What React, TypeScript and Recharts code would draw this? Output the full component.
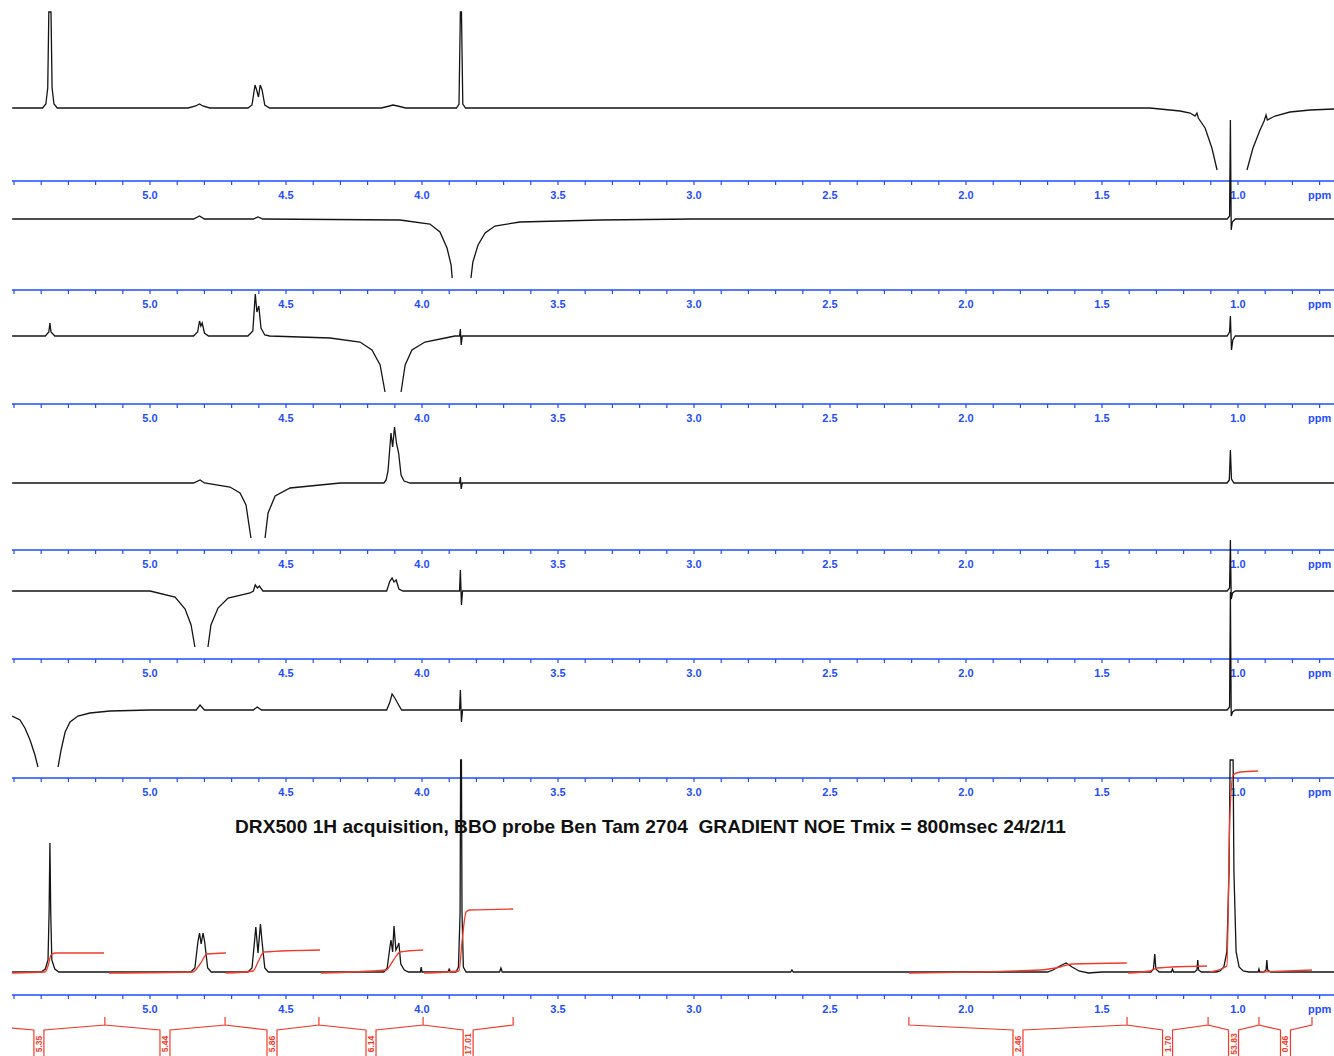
import { ComposedChart, Line, XAxis, YAxis } from "recharts";

type Pt = [number, number | null];

// chemical shift (ppm) vs intensity above each trace's own baseline
// trace 1: saturation at 1.03 ppm
const noeAt103: Pt[] = [
  [5.507, 0], [5.395, 0], [5.383, 4], [5.376, 20], [5.372, 96], [5.364, 96], [5.36, 20], [5.353, 4], [5.341, 0],
  [4.86, 0], [4.832, 2], [4.818, 4], [4.806, 2], [4.78, 0],
  [4.64, 0], [4.625, 3], [4.614, 23], [4.608, 18], [4.601, 11], [4.595, 23], [4.588, 18], [4.578, 3], [4.56, 0],
  [4.15, 0], [4.12, 2], [4.107, 3], [4.09, 2], [4.06, 0],
  [3.873, 0], [3.864, 4], [3.859, 96], [3.855, 96], [3.85, 4], [3.84, 0],
  [1.324, 0], [1.213, -3], [1.176, -5], [1.158, -8], [1.151, -5], [1.146, -10], [1.121, -20], [1.096, -40], [1.077, -62],
  [1.026, null],
  [0.967, -62], [0.945, -40], [0.919, -22], [0.904, -13], [0.897, -7], [0.892, -12], [0.864, -8], [0.809, -4], [0.735, -2], [0.647, -1],
];

// trace 2: saturation at 3.86 ppm
const noeAt386: Pt[] = [
  [5.507, 0], [4.84, 0], [4.818, 3], [4.8, 0], [4.62, 0], [4.603, 2], [4.585, 0],
  [4.081, -1], [3.971, -5], [3.934, -13], [3.908, -29], [3.893, -46], [3.889, -59],
  [3.857, null],
  [3.82, -59], [3.813, -43], [3.794, -26], [3.768, -14], [3.732, -7], [3.64, -3], [3.346, -1], [3.0, 0],
  [1.04, 0], [1.031, 3], [1.028, 99], [1.025, -11], [1.021, -3], [1.01, 0], [0.647, 0],
];

// trace 3: saturation at 4.10 ppm
const noeAt410: Pt[] = [
  [5.507, 0], [5.385, 0], [5.372, 4], [5.368, 13], [5.364, 4], [5.35, 0],
  [4.84, 0], [4.825, 4], [4.818, 15], [4.813, 10], [4.808, 13], [4.8, 3], [4.785, 0],
  [4.64, 0], [4.622, 5], [4.613, 42], [4.607, 24], [4.6, 30], [4.592, 8], [4.578, 1], [4.56, 0],
  [4.338, -2], [4.228, -6], [4.184, -14], [4.154, -29], [4.136, -56],
  [4.107, null],
  [4.077, -56], [4.062, -29], [4.037, -14], [3.989, -6], [3.915, -2], [3.879, 0],
  [3.862, 0], [3.859, 7], [3.856, -9], [3.852, 0],
  [1.04, 0], [1.031, 4], [1.028, 20], [1.024, -14], [1.019, -4], [1.01, 0], [0.647, 0],
];

// trace 4: saturation at 4.60 ppm
const noeAt460: Pt[] = [
  [5.507, 0], [4.84, 0], [4.816, 3], [4.8, 0],
  [4.706, -4], [4.669, -10], [4.647, -22], [4.629, -55],
  [4.603, null],
  [4.577, -55], [4.566, -30], [4.54, -13], [4.485, -5], [4.375, -2], [4.3, 0],
  [4.14, 0], [4.132, 3], [4.125, 12], [4.114, 50], [4.108, 36], [4.101, 56], [4.094, 40], [4.086, 30], [4.077, 8], [4.066, 2], [4.044, 0],
  [3.862, 0], [3.859, 6], [3.856, -6], [3.852, 0],
  [1.04, 0], [1.032, 3], [1.028, 33], [1.024, 4], [1.015, 0], [0.647, 0],
];

// trace 5: saturation at 4.80 ppm
const noeAt480: Pt[] = [
  [5.507, 0], [5.0, 0], [4.908, -6], [4.871, -18], [4.849, -34], [4.835, -56],
  [4.81, null],
  [4.787, -56], [4.776, -34], [4.75, -17], [4.713, -7], [4.632, -2],
  [4.62, 0], [4.613, 6], [4.605, 3], [4.598, 5], [4.585, 0],
  [4.13, 0], [4.118, 10], [4.11, 13], [4.103, 9], [4.095, 11], [4.085, 2], [4.07, 0],
  [3.862, 0], [3.859, 21], [3.855, -14], [3.851, 0],
  [1.04, 0], [1.031, 3], [1.028, 51], [1.025, -8], [1.02, -2], [1.01, 0], [0.647, 0],
];

// trace 6: saturation at 5.37 ppm
const noeAt537: Pt[] = [
  [5.507, -6], [5.478, -10], [5.46, -18], [5.441, -30], [5.423, -45], [5.412, -57],
  [5.375, null],
  [5.338, -57], [5.327, -40], [5.312, -22], [5.294, -12], [5.265, -6], [5.221, -3], [5.147, -1], [5.0, 0],
  [4.83, 0], [4.816, 5], [4.8, 0], [4.62, 0], [4.606, 3], [4.59, 0],
  [4.13, 0], [4.118, 8], [4.11, 16], [4.1, 12], [4.09, 7], [4.075, 0],
  [3.862, 0], [3.859, 20], [3.855, -12], [3.851, 0],
  [1.04, 0], [1.031, 3], [1.028, 118], [1.025, -6], [1.02, -2], [1.01, 0], [0.647, 0],
];

// trace 7: reference 1H spectrum
const protonRef: Pt[] = [
  [5.507, 0], [5.4, 0], [5.385, 3], [5.375, 12], [5.371, 60], [5.368, 129], [5.365, 60], [5.361, 12], [5.35, 3], [5.335, 0],
  [4.85, 0], [4.835, 4], [4.824, 30], [4.818, 39], [4.812, 28], [4.805, 39], [4.799, 30], [4.788, 4], [4.775, 0],
  [4.64, 0], [4.625, 4], [4.616, 30], [4.611, 45], [4.603, 19], [4.594, 48], [4.588, 30], [4.578, 4], [4.565, 0],
  [4.14, 0], [4.128, 4], [4.118, 25], [4.114, 32], [4.108, 20], [4.103, 46], [4.096, 22], [4.089, 26], [4.085, 29], [4.078, 8], [4.065, 2], [4.05, 0],
  [4.006, 0], [4.003, 5], [4.0, 0], [3.905, 0], [3.9, 3], [3.895, 0],
  [3.875, 0], [3.866, 5], [3.86, 60], [3.858, 212], [3.855, 212], [3.853, 60], [3.848, 5], [3.838, 0],
  [3.715, 0], [3.71, 4], [3.705, 0], [2.645, 0], [2.64, 2], [2.635, 0],
  [1.7, 0], [1.68, 2], [1.655, 6], [1.632, 9], [1.61, 5], [1.585, 1], [1.55, -1], [1.5, 0],
  [1.32, 0], [1.311, 3], [1.306, 18], [1.302, 3], [1.29, 0],
  [1.245, 0], [1.241, 3], [1.237, 0],
  [1.16, 0], [1.151, 2], [1.148, 12], [1.145, 2], [1.135, 0],
  [1.08, 0], [1.066, 1], [1.052, 5], [1.041, 20], [1.033, 100], [1.029, 212], [1.018, 212], [1.015, 100], [1.007, 20], [0.996, 5], [0.981, 1], [0.96, 0],
  [0.926, 0], [0.923, 3], [0.92, 0],
  [0.905, 0], [0.897, 2], [0.894, 12], [0.891, 2], [0.88, 0], [0.647, 0],
];

// running integrals on the reference spectrum
const integralCurves: Pt[][] = [
  [[5.507, -1], [5.386, 0], [5.375, 6], [5.364, 17], [5.349, 19], [5.169, 19]],
  [[5.151, -1], [4.842, 0], [4.816, 8], [4.79, 18], [4.721, 19]],
  [[4.721, -1], [4.621, 1], [4.603, 10], [4.581, 20], [4.375, 22]],
  [[4.371, -1], [4.132, 2], [4.107, 11], [4.081, 20], [3.996, 22]],
  [[3.993, -1], [3.864, 1], [3.853, 30], [3.838, 60], [3.824, 62], [3.665, 63]],
  [[2.21, -1], [1.728, 2], [1.654, 5], [1.61, 8], [1.409, 9]],
  [[1.404, -1], [1.324, 1], [1.298, 4], [1.114, 6]],
  [[1.103, 0], [1.041, 6], [1.03, 156], [1.018, 197], [0.992, 200], [0.926, 201]],
  [[0.919, 0], [0.728, 2]],
];

const integralStart = [5.651, 5.166, 4.724, 4.379, 3.996, 2.21, 1.408, 1.11, 0.923];
const integralEnd = [5.166, 4.724, 4.379, 3.996, 3.665, 1.408, 1.11, 0.923, 0.728];
const integralValues = ["5.35", "5.44", "5.86", "6.14", "17.01", "2.46", "1.70", "53.83", "0.46"];

const axisTicks = [
  5.5, 5.4, 5.3, 5.2, 5.1, 5.0, 4.9, 4.8, 4.7, 4.6, 4.5, 4.4, 4.3, 4.2, 4.1, 4.0,
  3.9, 3.8, 3.7, 3.6, 3.5, 3.4, 3.3, 3.2, 3.1, 3.0, 2.9, 2.8, 2.7, 2.6, 2.5, 2.4,
  2.3, 2.2, 2.1, 2.0, 1.9, 1.8, 1.7, 1.6, 1.5, 1.4, 1.3, 1.2, 1.1, 1.0, 0.9, 0.8, 0.7,
];
const labeledTicks = [5.0, 4.5, 4.0, 3.5, 3.0, 2.5, 2.0, 1.5, 1.0];
const unitTick = 0.7;

const traces = [noeAt103, noeAt386, noeAt410, noeAt460, noeAt480, noeAt537, protonRef];
// layout: pixel rows of each trace baseline and of each ppm axis
const baselines = [108, 219, 336, 483, 591, 710, 972];
const axisRows = [181, 290, 404, 550, 659, 778, 995];

const W = 1334;
const H = 1056;
const LEFT = 12;
const PPM_DOMAIN: [number, number] = [0.6471, 5.5074];
const BLUE = "#1f4dff";
const RED = "#ef3b2c";
const FONT = "'Liberation Sans', Arial, Helvetica, sans-serif";

const rows = (pts: Pt[]) => pts.map(([ppm, v]) => ({ ppm, v }));

// integral brackets under the bottom axis (y offsets are below the ref baseline)
const BOX_HALF = 5 / 272;
const bracketRows: { ppm: number; v: number | null }[] = [];
const labelRows: { ppm: number; v: number }[] = [];
integralStart.forEach((s, i) => {
  const e = integralEnd[i];
  const mid = (s + e) / 2;
  bracketRows.push(
    { ppm: s, v: -45 }, { ppm: s, v: -53 }, { ppm: mid + BOX_HALF, v: -58 }, { ppm: mid + BOX_HALF, v: -95 },
    { ppm: mid, v: null },
    { ppm: mid - BOX_HALF, v: -95 }, { ppm: mid - BOX_HALF, v: -58 }, { ppm: e, v: -53 }, { ppm: e, v: -45 },
    { ppm: e, v: null },
  );
  labelRows.push({ ppm: mid, v: -72 });
});

const axisData = axisTicks.map((t) => ({ ppm: t, v: 0 }));

function renderTick(props: any) {
  const { x, y, payload } = props;
  const v = Math.round(payload.value * 10) / 10;
  let label: string | null = null;
  if (v === unitTick) label = "ppm";
  else if (labeledTicks.includes(v)) label = v.toFixed(1);
  if (!label) return <g />;
  return (
    <text x={x} y={y + 12} textAnchor="middle" fill={BLUE} fontSize={11} fontWeight={700} fontFamily={FONT}>
      {label}
    </text>
  );
}

function PpmAxis({ top }: { top: number }) {
  return (
    <div style={{ position: "absolute", left: 0, top: top - 2 }}>
      <ComposedChart width={W} height={30} data={axisData} margin={{ top: 0, right: 0, bottom: 0, left: LEFT }}>
        <XAxis
          type="number"
          dataKey="ppm"
          domain={PPM_DOMAIN}
          reversed
          allowDataOverflow
          ticks={axisTicks}
          interval={0}
          tick={renderTick}
          tickSize={4}
          tickMargin={2}
          height={28}
          axisLine={{ stroke: BLUE, strokeWidth: 1.5 }}
          tickLine={{ stroke: BLUE, strokeWidth: 1.2 }}
        />
        <YAxis hide domain={[0, 1]} />
        <Line dataKey="v" stroke="none" dot={false} isAnimationActive={false} />
      </ComposedChart>
    </div>
  );
}

export default function App() {
  return (
    <div style={{ position: "absolute", left: 0, top: 0, width: W, height: H, background: "#fff", overflow: "hidden" }}>
      {axisRows.map((r) => (
        <PpmAxis key={r} top={r} />
      ))}

      {/* title */}
      <svg width={W} height={H} style={{ position: "absolute", left: 0, top: 0 }}>
        <text
          x={235}
          y={833}
          textLength={831}
          lengthAdjust="spacingAndGlyphs"
          fontSize={19}
          fontWeight={700}
          fontFamily={FONT}
          fill="#111"
          style={{ whiteSpace: "pre" }}
        >
          DRX500 1H acquisition, BBO probe Ben Tam 2704  GRADIENT NOE Tmix = 800msec 24/2/11
        </text>
      </svg>

      <div style={{ position: "absolute", left: 0, top: 0 }}>
        <ComposedChart width={W} height={H} margin={{ top: 0, right: 0, bottom: 0, left: LEFT }}>
          <XAxis hide type="number" dataKey="ppm" domain={PPM_DOMAIN} reversed allowDataOverflow />
          {baselines.map((b, i) => (
            <YAxis key={i} yAxisId={`p${i}`} hide type="number" dataKey="v" domain={[b - H, b]} allowDataOverflow />
          ))}

          {traces.map((t, i) => (
            <Line
              key={i}
              yAxisId={`p${i}`}
              data={rows(t)}
              dataKey="v"
              type="linear"
              stroke="#141414"
              strokeWidth={1.3}
              dot={false}
              isAnimationActive={false}
            />
          ))}

          {integralCurves.map((c, i) => (
            <Line
              key={`int${i}`}
              yAxisId="p6"
              data={rows(c)}
              dataKey="v"
              type="monotone"
              stroke={RED}
              strokeWidth={1.3}
              dot={false}
              isAnimationActive={false}
            />
          ))}

          {/* integral brackets */}
          <Line
            yAxisId="p6"
            data={bracketRows}
            dataKey="v"
            type="linear"
            stroke={RED}
            strokeWidth={1.2}
            dot={false}
            isAnimationActive={false}
          />
          <Line
            yAxisId="p6"
            data={labelRows}
            dataKey="v"
            stroke="none"
            dot={false}
            isAnimationActive={false}
            label={(p: any) => (
              <text
                key={`lab${p.index}`}
                x={p.x}
                y={p.y}
                transform={`rotate(-90 ${p.x} ${p.y})`}
                textAnchor="middle"
                dominantBaseline="central"
                fontSize={8.5}
                fontWeight={700}
                fontFamily={FONT}
                fill={RED}
              >
                {integralValues[p.index]}
              </text>
            )}
          />
        </ComposedChart>
      </div>
    </div>
  );
}
